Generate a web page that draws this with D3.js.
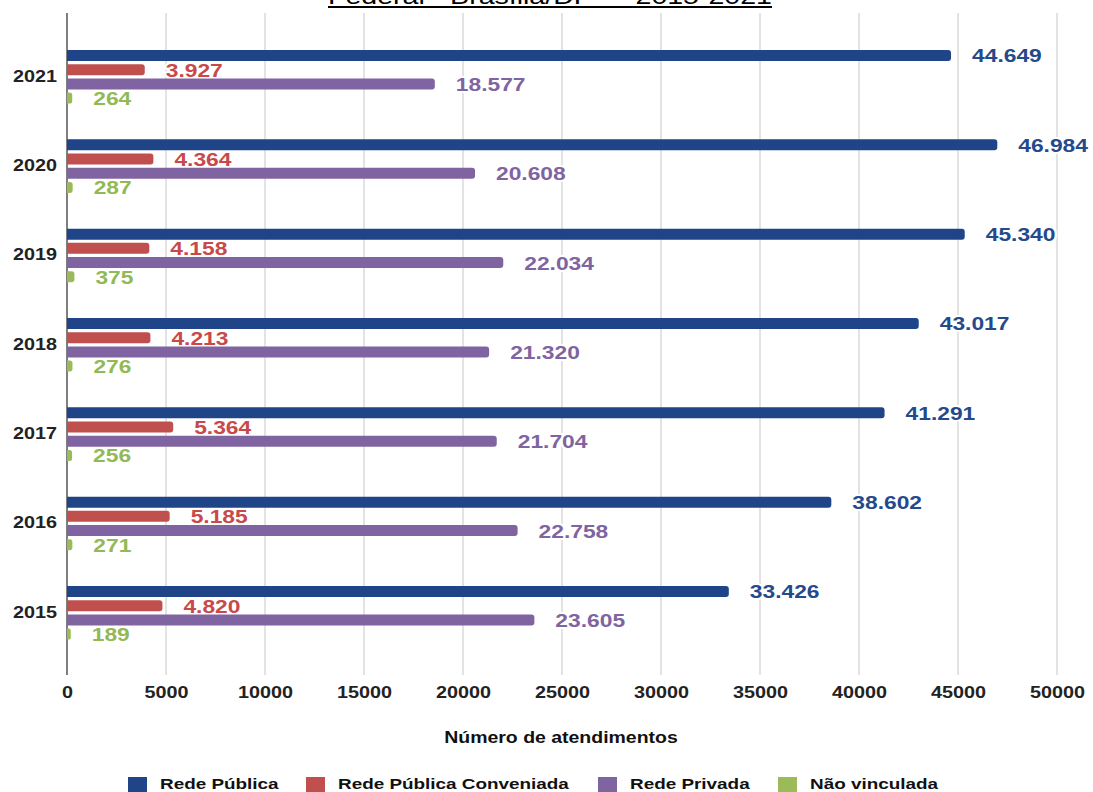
<!DOCTYPE html>
<html><head><meta charset="utf-8">
<script src="https://cdn.jsdelivr.net/npm/d3@7"></script>
<style>body{margin:0;background:#fff}svg{display:block;font-family:"Liberation Sans",Arial,sans-serif}</style>
</head><body><svg id="c" width="1093" height="792"></svg>
<script>
const years = ["2021","2020","2019","2018","2017","2016","2015"];
const seriesNames = ["Rede Pública","Rede Pública Conveniada","Rede Privada","Não vinculada"];
const redePublica = [44649,46984,45340,43017,41291,38602,33426];
const conveniada = [3927,4364,4158,4213,5364,5185,4820];
const privada = [18577,20608,22034,21320,21704,22758,23605];
const naoVinculada = [264,287,375,276,256,271,189];
const xTicks = [0,5000,10000,15000,20000,25000,30000,35000,40000,45000,50000];
const colors = ["#1f4588","#c0504d","#8064a2","#9bbb59"];
const labelColors = ["#244a8c","#c9494a","#8064a2","#93b956"];
const titleText = "Federal - Brasília/DF — 2015-2021";
const seriesValues = [redePublica, conveniada, privada, naoVinculada];

const K = 1.2; // horizontal text stretch
function stretch(sel, k){
  sel.each(function(){
    const el = d3.select(this);
    const x0 = +el.attr("x") || 0;
    el.attr("x", x0 / k).attr("transform", `scale(${k},1)`);
  });
}

const svg = d3.select("#c");
const x = d3.scaleLinear().domain([0,50000]).range([67,1057]);
const y = d3.scalePoint().domain(years).range([76,612]);
const yi = d3.scaleBand().domain(d3.range(4)).range([-26,27.6]).paddingInner(0.225);
const plotTop = 13, plotBottom = 673;

// title (clipped at top)
const t = svg.append("text").attr("x",550).attr("y",4).attr("text-anchor","middle")
  .attr("font-size",22).attr("fill","#000").text(titleText);
const tw = t.node().getComputedTextLength();
stretch(t, 444 / tw);
svg.append("line").attr("x1",328).attr("x2",772).attr("y1",7).attr("y2",7)
  .attr("stroke","#000").attr("stroke-width",2);

// grid
svg.append("g").selectAll("line").data(xTicks.slice(1)).join("line")
  .attr("x1",d=>x(d)).attr("x2",d=>x(d)).attr("y1",plotTop).attr("y2",plotBottom+2)
  .attr("stroke","#d0d0d0").attr("stroke-width",1.2);
svg.append("line").attr("x1",x(0)).attr("x2",x(0)).attr("y1",plotTop).attr("y2",plotBottom+2)
  .attr("stroke","#555").attr("stroke-width",1.5);

// x axis labels
const xa = d3.axisBottom(x).tickValues(xTicks).tickSize(0).tickFormat(d3.format("d"));
const gx = svg.append("g").attr("transform",`translate(0,698)`).call(xa);
gx.select(".domain").remove();
gx.selectAll("text").attr("y",0).attr("dy",0).attr("font-size",16.5).attr("font-weight","bold").attr("fill","#222")
  .attr("font-family","Liberation Sans, Arial, sans-serif");
stretch(gx.selectAll("text"), K);

// y axis labels
const ya = d3.axisLeft(y).tickSize(0).tickPadding(0);
const gy = svg.append("g").attr("transform","translate(57,0)").call(ya);
gy.select(".domain").remove();
gy.selectAll("text").attr("font-size",16.5).attr("font-weight","bold").attr("fill","#222")
  .attr("font-family","Liberation Sans, Arial, sans-serif");
stretch(gy.selectAll("text"), K);

const fmt = v => d3.formatLocale({decimal:",",thousands:".",grouping:[3],currency:["",""]}).format(",d")(v);

// bars
seriesValues.forEach((vals,si)=>{
  const g = svg.append("g");
  g.selectAll("path").data(years.map((yr,i)=>({yr,v:vals[i]}))).join("path")
    .attr("d",d=>{
      const x0=x(0), x1=x(d.v), y0=y(d.yr)+yi(si), h=yi.bandwidth(), r=Math.min(3,(x1-x0)/2);
      return `M${x0},${y0}H${x1-r}Q${x1},${y0} ${x1},${y0+r}V${y0+h-r}Q${x1},${y0+h} ${x1-r},${y0+h}H${x0}Z`;
    }).attr("fill",colors[si]);
  const lbl = g.selectAll("text").data(years.map((yr,i)=>({yr,v:vals[i]}))).join("text")
    .attr("x",d=>x(d.v)+21).attr("y",d=>y(d.yr)+yi(si)+yi.bandwidth()/2+7)
    .attr("font-size",19).attr("font-weight","bold").attr("fill",labelColors[si])
    .attr("stroke","#fff").attr("stroke-width",4).attr("paint-order","stroke")
    .text(d=>fmt(d.v));
  stretch(lbl, K);
});

// axis title
const at = svg.append("text").attr("x",561).attr("y",743).attr("text-anchor","middle")
  .attr("font-size",16.5).attr("font-weight","bold").attr("fill","#111").text("Número de atendimentos");
stretch(at, 1.18);

// legend
const legX = [128,306,598,778];
const lg = svg.append("g").selectAll("g").data(seriesNames).join("g")
  .attr("transform",(d,i)=>`translate(${legX[i]},777)`);
lg.append("rect").attr("width",19).attr("height",19).attr("fill",(d,i)=>colors[i]);
const lt = lg.append("text").attr("x",32).attr("y",11.5).attr("font-size",15.5).attr("font-weight","bold")
  .attr("fill","#111").text(d=>d);
stretch(lt, 1.22);
</script></body></html>
